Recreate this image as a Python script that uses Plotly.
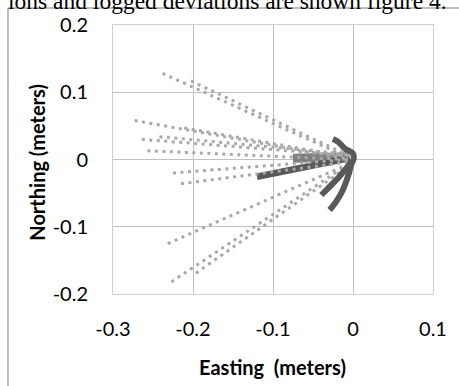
import plotly.graph_objects as go

# Light dotted tracks (Easting, Northing) start -> end
dot_tracks = {
    "T1":  ([-0.238, -0.006], [0.128, 0.003]),
    "T1b": ([-0.2025, -0.006], [0.117, 0.006]),
    "T2":  ([-0.273, -0.006], [0.058, 0.001]),
    "T2b": ([-0.211, -0.006], [0.047, 0.004]),
    "T3":  ([-0.264, -0.006], [0.030, 0.006]),
    "T3b": ([-0.242, -0.006], [0.034, 0.008]),
    "T4":  ([-0.257, -0.006], [0.013, 0.000]),
    "T5":  ([-0.225, -0.006], [-0.020, 0.000]),
    "T6":  ([-0.215, -0.006], [-0.036, -0.004]),
    "T7":  ([-0.2315, -0.012], [-0.125, -0.010]),
    "T8":  ([-0.227, -0.012], [-0.182, -0.012]),
    "T8b": ([-0.1963, -0.010], [-0.169, -0.014]),
}

# Mid-grey band near origin
band_x = [-0.075, -0.006]
band_y = [0.002, 0.004]

# Dark tracks
darkB_x = [-0.120, -0.060, -0.004]
darkB_y = [-0.0256, -0.010, 0.0022]

hook_x = [-0.0251, -0.0189, -0.0106, -0.0003, 0.0009, -0.0015]
hook_y = [0.0305, 0.0265, 0.0167, 0.0092, 0.0018, -0.0057]

arm1_x = [-0.0015, -0.0086, -0.0189, -0.0313, -0.0396]
arm1_y = [-0.0033, -0.0131, -0.0280, -0.0428, -0.0528]

arm2_x = [-0.0015, -0.0057, -0.0127, -0.0210, -0.0292]
arm2_y = [-0.0033, -0.0230, -0.0454, -0.0627, -0.0751]

x_ticks = [-0.3, -0.2, -0.1, 0, 0.1]
x_labels = ["-0.3", "-0.2", "-0.1", "0", "0.1"]
y_ticks = [-0.2, -0.1, 0, 0.1, 0.2]
y_labels = ["-0.2", "-0.1", "0", "0.1", "0.2"]

DARK = "#595959"
LIGHT = "#a9a9a9"

fig = go.Figure()

fig.add_trace(go.Scatter(x=band_x, y=band_y, mode="lines",
                         line=dict(color="#7f7f7f", width=9), showlegend=False))
fig.add_trace(go.Scatter(x=darkB_x, y=darkB_y, mode="lines",
                         line=dict(color=DARK, width=6.5), showlegend=False))
for name, (xs, ys) in dot_tracks.items():
    fig.add_trace(go.Scatter(x=xs, y=ys, mode="lines", name=name,
                             line=dict(color=LIGHT, width=3, dash="3px,4.5px"),
                             showlegend=False))
for xs, ys in [(hook_x, hook_y), (arm1_x, arm1_y), (arm2_x, arm2_y)]:
    fig.add_trace(go.Scatter(x=xs, y=ys, mode="lines",
                             line=dict(color=DARK, width=6, shape="spline"),
                             showlegend=False))

tickfont = dict(family="Lato", size=20, color="#000000")
fig.update_layout(
    width=459, height=386,
    margin=dict(l=113, r=23, t=25, b=92),
    paper_bgcolor="white", plot_bgcolor="white",
    xaxis=dict(range=[-0.3, 0.1], tickvals=x_ticks, ticktext=x_labels,
               showgrid=True, gridcolor="#c0c0c0", gridwidth=1,
               zeroline=True, zerolinecolor="#c0c0c0", zerolinewidth=1,
               showline=True, mirror=True, linecolor="#cfcfcf", linewidth=1,
               ticks="", tickfont=tickfont, ticklabelstandoff=17),
    yaxis=dict(range=[-0.2, 0.2], tickvals=y_ticks, ticktext=y_labels,
               showgrid=True, gridcolor="#c0c0c0", gridwidth=1,
               zeroline=True, zerolinecolor="#c0c0c0", zerolinewidth=1,
               showline=True, mirror=True, linecolor="#cfcfcf", linewidth=1,
               ticks="", tickfont=tickfont, ticklabelstandoff=20),
    annotations=[
        dict(text="<b>Easting  (meters)</b>", xref="paper", yref="paper",
             x=0.498, y=(294 - 367) / 269, xanchor="center", yanchor="middle",
             showarrow=False, font=dict(family="Lato", size=20, color="#000")),
        dict(text="<b>Northing (meters)</b>", xref="paper", yref="paper",
             x=(36 - 113) / 323, y=(294 - 162) / 269, xanchor="center",
             yanchor="middle", textangle=-90, showarrow=False,
             font=dict(family="Lato", size=20, color="#000")),
        dict(text="ions and logged deviations are shown figure 4.",
             xref="paper", yref="paper", x=(5 - 113) / 323, y=1 + 9.5 / 269,
             xanchor="left", yanchor="bottom", showarrow=False,
             font=dict(family="Liberation Serif", size=23.5, color="#000")),
    ],
    shapes=[
        dict(type="line", xref="paper", yref="paper",
             x0=(7 - 113) / 323, x1=(7 - 113) / 323,
             y0=(294 - 8) / 269, y1=(294 - 390) / 269,
             line=dict(color="#a8a8a8", width=1.5)),
        dict(type="line", xref="paper", yref="paper",
             x0=(7 - 113) / 323, x1=(470 - 113) / 323,
             y0=(294 - 8) / 269, y1=(294 - 8) / 269,
             line=dict(color="#a8a8a8", width=1.5)),
    ],
)

fig.write_html("out.html", config={"displayModeBar": False},
               post_script="document.body.style.margin='0';document.body.style.overflow='hidden';")
